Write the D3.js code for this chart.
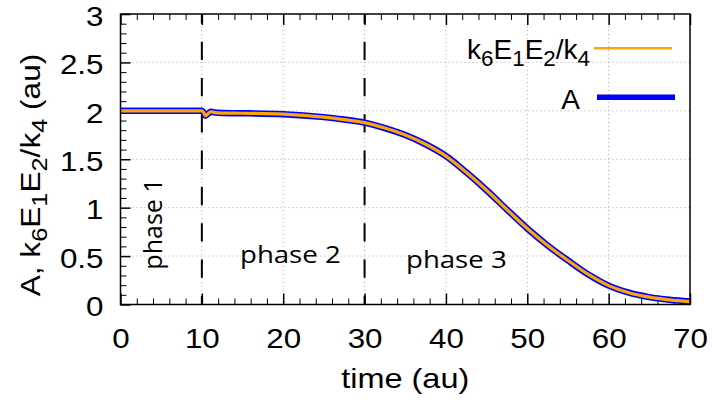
<!DOCTYPE html>
<html>
<head>
<meta charset="utf-8">
<script src="https://cdn.jsdelivr.net/npm/d3@7"></script>
<style>
  body { margin: 0; background: #fff; }
  svg { display: block; }
</style>
</head>
<body>
<svg id="chart" width="712" height="401"></svg>
<script>
// Time course of A and of k6*E1*E2/k4 (the two coincide)
const timeA   = [0, 5, 9.8, 10, 10.2, 10.45, 10.75, 11.1, 11.6, 12.5, 15, 20, 25, 27.5, 30, 32.5, 35, 37.5, 40, 42.5, 45, 47.5, 50, 52.5, 55, 57.5, 60, 62.5, 65, 67.5, 70];
const valuesA = [2.0, 2.0, 2.0, 2.0, 1.985, 1.95, 1.97, 1.99, 1.982, 1.977, 1.975, 1.965, 1.935, 1.91, 1.878, 1.822, 1.75, 1.655, 1.533, 1.365, 1.18, 0.98, 0.785, 0.61, 0.455, 0.31, 0.195, 0.122, 0.076, 0.048, 0.03];
const timeK   = [0, 5, 9.8, 10, 10.2, 10.45, 10.75, 11.1, 11.6, 12.5, 15, 20, 25, 27.5, 30, 32.5, 35, 37.5, 40, 42.5, 45, 47.5, 50, 52.5, 55, 57.5, 60, 62.5, 65, 67.5, 70];
const valuesK = [2.0, 2.0, 2.0, 2.0, 1.985, 1.95, 1.97, 1.99, 1.982, 1.977, 1.975, 1.965, 1.935, 1.91, 1.878, 1.822, 1.75, 1.655, 1.533, 1.365, 1.18, 0.98, 0.785, 0.61, 0.455, 0.31, 0.195, 0.122, 0.076, 0.048, 0.03];

const xTickValues = [0, 10, 20, 30, 40, 50, 60, 70];
const yTickValues = [0, 0.5, 1, 1.5, 2, 2.5, 3];
const xMinorStep = 2;
const yMinorStep = 0.1;
const phaseBoundaries = [10, 30];
const phaseLabels = ["phase 1", "phase 2", "phase 3"];
const xTitle = "time (au)";

const svg = d3.select("#chart");
const X0 = 120.5, X1 = 690, Y0 = 304.5, Y1 = 14;
const x = d3.scaleLinear().domain([0, 70]).range([X0, X1]);
const y = d3.scaleLinear().domain([0, 3]).range([Y0, Y1]);

const tickFont = "'Liberation Sans', Arial, Helvetica, sans-serif";
const phaseFont = "'Open Sans', 'Noto Sans', sans-serif";
const wide = 1.12;   // horizontal widening of tick labels

// dotted grid
const grid = svg.append("g").attr("stroke", "#aaaaaa").attr("stroke-width", 1)
  .attr("stroke-dasharray", "1,3").attr("fill", "none");
grid.selectAll("line.v").data(xTickValues.slice(1, -1)).join("line")
  .attr("x1", d => x(d)).attr("x2", d => x(d)).attr("y1", Y1).attr("y2", Y0);
grid.selectAll("line.h").data(yTickValues.slice(1, -1)).join("line")
  .attr("x1", X0).attr("x2", X1).attr("y1", d => y(d)).attr("y2", d => y(d));

// minor and major ticks (inward), bottom/top and left
const xMinor = d3.range(0, 70 + 1e-9, xMinorStep).filter(v => !xTickValues.includes(v));
const yMinor = d3.range(0, 3 + 1e-9, yMinorStep).map(v => +v.toFixed(2))
  .filter(v => !yTickValues.includes(v));

function styleAxis(g) {
  g.select(".domain").remove();
  g.selectAll(".tick line").attr("stroke", "#000");
}
function bareTicks(g) {
  styleAxis(g);
  g.selectAll(".tick text").remove();
}
svg.append("g").attr("transform", `translate(0,${Y0})`)
  .call(d3.axisBottom(x).tickValues(xMinor).tickSize(-6))
  .call(bareTicks);
svg.append("g").attr("transform", `translate(0,${Y1})`)
  .call(d3.axisTop(x).tickValues(xMinor).tickSize(-6))
  .call(bareTicks);
svg.append("g").attr("transform", `translate(${X0},0)`)
  .call(d3.axisLeft(y).tickValues(yMinor).tickSize(-6))
  .call(bareTicks);
svg.append("g").attr("transform", `translate(0,${Y1})`)
  .call(d3.axisTop(x).tickValues(xTickValues).tickSize(-11))
  .call(bareTicks).selectAll(".tick line").attr("stroke-width", 1.5);

const xAxis = svg.append("g").attr("transform", `translate(0,${Y0})`)
  .call(d3.axisBottom(x).tickValues(xTickValues).tickSize(-11).tickPadding(24).tickFormat(d3.format("d")))
  .call(styleAxis);
xAxis.selectAll(".tick line").attr("stroke-width", 1.5);
xAxis.selectAll(".tick text").attr("font-family", tickFont).attr("font-size", 28)
  .attr("fill", "#000").attr("dy", "0.71em")
  .attr("transform", `scale(${wide},1)`);

const yAxis = svg.append("g").attr("transform", `translate(${X0},0)`)
  .call(d3.axisLeft(y).tickValues(yTickValues).tickSize(-10).tickPadding(17).tickFormat(d => String(d)))
  .call(styleAxis);
yAxis.selectAll(".tick line").attr("stroke-width", 1.5);
yAxis.selectAll(".tick text").attr("font-family", tickFont).attr("font-size", 28)
  .attr("fill", "#000").attr("dy", "0.40em")
  .attr("x", -17 / wide).attr("transform", `scale(${wide},1)`);

// phase boundaries
svg.append("g").selectAll("line").data(phaseBoundaries).join("line")
  .attr("x1", d => x(d)).attr("x2", d => x(d)).attr("y1", Y1).attr("y2", Y0)
  .attr("stroke", "#000").attr("stroke-width", 2)
  .attr("stroke-dasharray", "18.3,18").attr("stroke-dashoffset", 8.6);

// curves
const lineA = d3.line().x((d, i) => x(timeA[i])).y(d => y(d)).curve(d3.curveCatmullRom.alpha(0.5));
const lineK = d3.line().x((d, i) => x(timeK[i])).y(d => y(d)).curve(d3.curveCatmullRom.alpha(0.5));
svg.append("path").attr("d", lineA(valuesA)).attr("fill", "none")
  .attr("stroke", "#0000ff").attr("stroke-width", 6.5).attr("stroke-linejoin", "round");
svg.append("path").attr("d", lineK(valuesK)).attr("fill", "none")
  .attr("stroke", "#ffa500").attr("stroke-width", 3.2).attr("stroke-linejoin", "round");

// frame
svg.append("rect").attr("x", X0).attr("y", Y1).attr("width", X1 - X0).attr("height", Y0 - Y1)
  .attr("fill", "none").attr("stroke", "#000").attr("stroke-width", 1.5);

// text with subscripts: each part is [string] or [string, "sub"]
function richText(sel, parts, size) {
  const shift = size * 0.25;
  let lowered = false;
  parts.forEach(p => {
    const isSub = p[1] === "sub";
    let dy = 0;
    if (isSub && !lowered) dy = shift;
    if (!isSub && lowered) dy = -shift;
    lowered = isSub;
    sel.append("tspan").text(p[0])
      .attr("font-size", isSub ? size * 0.8 : size)
      .attr("dy", dy);
  });
  return sel;
}

const kParts = [["k"], ["6", "sub"], ["E"], ["1", "sub"], ["E"], ["2", "sub"], ["/k"], ["4", "sub"]];

// legend
const legend = svg.append("g");
richText(legend.append("text").attr("x", 590).attr("y", 59).attr("text-anchor", "end")
  .attr("font-family", tickFont).attr("fill", "#000"), kParts, 28);
legend.append("line").attr("x1", 594).attr("x2", 672).attr("y1", 48.3).attr("y2", 48.3)
  .attr("stroke", "#ffa500").attr("stroke-width", 2.5);
legend.append("text").attr("x", 580).attr("y", 109).attr("text-anchor", "end")
  .attr("font-family", tickFont).attr("font-size", 28).attr("fill", "#000").text("A");
legend.append("line").attr("x1", 597).attr("x2", 675).attr("y1", 97.3).attr("y2", 97.3)
  .attr("stroke", "#0000ff").attr("stroke-width", 5.5);

// axis titles
svg.append("text").attr("transform", `translate(${(X0 + X1) / 2},388) scale(1.16,1)`)
  .attr("text-anchor", "middle")
  .attr("font-family", tickFont).attr("font-size", 28).attr("fill", "#000").text(xTitle);
richText(svg.append("text").attr("transform", "translate(40,175) rotate(-90) scale(1.13,1)")
  .attr("text-anchor", "middle").attr("font-family", tickFont).attr("fill", "#000"),
  [["A, k"], ["6", "sub"], ["E"], ["1", "sub"], ["E"], ["2", "sub"], ["/k"], ["4", "sub"], [" (au)"]], 28);

// phase labels
svg.append("text").attr("transform", "translate(162,224) rotate(-90)").attr("text-anchor", "middle")
  .attr("font-family", phaseFont).attr("font-size", 25).attr("fill", "#000").text(phaseLabels[0]);
svg.append("text").attr("transform", `translate(240,263) scale(1.2,1)`)
  .attr("font-family", phaseFont).attr("font-size", 23).attr("fill", "#000").text(phaseLabels[1]);
svg.append("text").attr("transform", `translate(406,268.3) scale(1.2,1)`)
  .attr("font-family", phaseFont).attr("font-size", 23).attr("fill", "#000").text(phaseLabels[2]);
</script>
</body>
</html>
